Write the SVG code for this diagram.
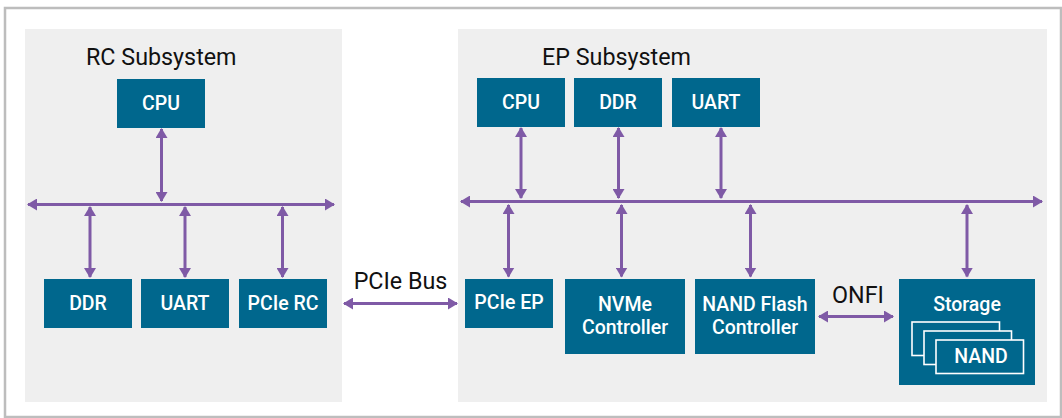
<svg xmlns="http://www.w3.org/2000/svg" width="1062" height="418" viewBox="0 0 1062 418">
<defs>
<style>
.panel{fill:#efefef}
.box{fill:#00678d}
.lbl{font-family:Roboto,"Liberation Sans",sans-serif;font-weight:500;font-size:19.5px;fill:#ffffff;text-anchor:middle}
.title{font-family:Roboto,"Liberation Sans",sans-serif;font-size:23.3px;fill:#111111}
.cap{font-family:Roboto,"Liberation Sans",sans-serif;font-size:23.3px;fill:#111111;text-anchor:middle}
.ln{stroke:#7f5aa6;stroke-width:3;fill:none;marker-start:url(#ah);marker-end:url(#ah)}
.card{fill:#00678d;stroke:#ffffff;stroke-width:1.6}
</style>
<marker id="ah" viewBox="0 0 10 12" refX="9" refY="6" markerWidth="10" markerHeight="12" markerUnits="userSpaceOnUse" orient="auto-start-reverse">
<path d="M0,0 L10,6 L0,12 Z" fill="#7f5aa6"/>
</marker>
</defs>
<rect x="0" y="0" width="1062" height="418" fill="#ffffff"/>
<rect x="5" y="8" width="1056" height="409" fill="#ffffff" stroke="#bdbdbd" stroke-width="2.5"/>
<g id="rc-subsystem">
<rect class="panel" x="25" y="29" width="317" height="373"/>
<text class="title" x="86" y="64.5">RC Subsystem</text>
</g>
<g id="ep-subsystem">
<rect class="panel" x="458" y="29" width="589" height="373"/>
<text class="title" x="542" y="64.5">EP Subsystem</text>
</g>
<g id="connectors">
<line class="ln" x1="28" y1="204.5" x2="334" y2="204.5"/>
<line class="ln" x1="161.5" y1="129" x2="161.5" y2="201"/>
<line class="ln" x1="90" y1="207" x2="90" y2="277"/>
<line class="ln" x1="185" y1="207" x2="185" y2="277"/>
<line class="ln" x1="282.5" y1="207" x2="282.5" y2="277"/>
<line class="ln" x1="344" y1="303.5" x2="457" y2="303.5"/>
<line class="ln" x1="461" y1="201.5" x2="1042" y2="201.5"/>
<line class="ln" x1="521" y1="128" x2="521" y2="198"/>
<line class="ln" x1="618.5" y1="128" x2="618.5" y2="198"/>
<line class="ln" x1="721" y1="128" x2="721" y2="198"/>
<line class="ln" x1="508.5" y1="205" x2="508.5" y2="276.5"/>
<line class="ln" x1="621.5" y1="205" x2="621.5" y2="276.5"/>
<line class="ln" x1="750.5" y1="205" x2="750.5" y2="276.5"/>
<line class="ln" x1="967" y1="205" x2="967" y2="276.5"/>
<line class="ln" x1="819" y1="316.5" x2="893" y2="316.5"/>
</g>
<g id="labels">
<text class="cap" x="400.5" y="288.5">PCIe Bus</text>
<text class="cap" x="858" y="302.5">ONFI</text>
</g>
<g id="rc-cpu"><rect class="box" x="117" y="79" width="88" height="49"/><text class="lbl" x="161" y="110">CPU</text></g>
<g id="rc-ddr"><rect class="box" x="44" y="279" width="88" height="49"/><text class="lbl" x="88" y="310">DDR</text></g>
<g id="rc-uart"><rect class="box" x="141" y="279" width="88" height="49"/><text class="lbl" x="185" y="310">UART</text></g>
<g id="rc-pcie"><rect class="box" x="239" y="279" width="88" height="49"/><text class="lbl" x="283" y="310">PCIe RC</text></g>
<g id="ep-cpu"><rect class="box" x="477" y="78" width="88" height="49"/><text class="lbl" x="521" y="109">CPU</text></g>
<g id="ep-ddr"><rect class="box" x="574" y="78" width="88" height="49"/><text class="lbl" x="618" y="109">DDR</text></g>
<g id="ep-uart"><rect class="box" x="672" y="78" width="88" height="49"/><text class="lbl" x="716" y="109">UART</text></g>
<g id="ep-pcie"><rect class="box" x="465" y="279" width="88" height="49"/><text class="lbl" x="509" y="309">PCIe EP</text></g>
<g id="nvme"><rect class="box" x="565" y="279" width="120" height="75"/><text class="lbl" x="625" y="311">NVMe</text><text class="lbl" x="625" y="334">Controller</text></g>
<g id="nand-flash"><rect class="box" x="695" y="279" width="120" height="75"/><text class="lbl" x="755" y="311">NAND Flash</text><text class="lbl" x="755" y="334">Controller</text></g>
<g id="storage">
<rect class="box" x="899" y="279" width="136" height="106"/>
<text class="lbl" x="967" y="311">Storage</text>
<rect class="card" x="912" y="322" width="87.5" height="33.5"/>
<rect class="card" x="924" y="331" width="87.5" height="33.5"/>
<rect class="card" x="936" y="340" width="87.5" height="33.5"/>
<text class="lbl" x="981" y="363">NAND</text>
</g>
</svg>
